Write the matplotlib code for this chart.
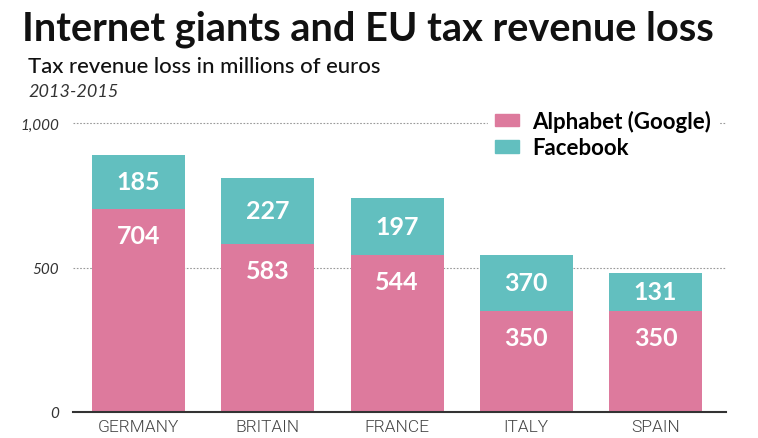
import matplotlib
matplotlib.use("Agg")
from matplotlib import pyplot as plt
from matplotlib.patches import Patch

countries = ["GERMANY", "BRITAIN", "FRANCE", "ITALY", "SPAIN"]
alphabet = [704, 583, 544, 350, 350]
# bar heights as drawn in the source (the Italy label says 370 but the bar is shorter)
facebook = [185, 227, 197, 195, 131]
alphabet_labels = ["704", "583", "544", "350", "350"]
facebook_labels = ["185", "227", "197", "370", "131"]

pink = "#dd7a9d"
teal = "#62bfbf"

plt.rcParams["font.family"] = ["Lato", "DejaVu Sans"]

fig = plt.figure(figsize=(7.58, 4.39), dpi=100)
ax = fig.add_axes([73 / 758, 26 / 439, 653 / 758, 303.4 / 439])

x = range(len(countries))
ax.bar(x, alphabet, width=0.72, color=pink, zorder=2)
ax.bar(x, facebook, width=0.72, bottom=alphabet, color=teal, zorder=2)

for i in x:
    ax.text(i, alphabet[i] - 92, alphabet_labels[i], ha="center", va="center",
            color="white", fontsize=18, fontweight="bold", zorder=3)
    ax.text(i, alphabet[i] + facebook[i] / 2, facebook_labels[i], ha="center",
            va="center", color="white", fontsize=18, fontweight="bold", zorder=3)

ax.set_xlim(-0.507, 4.545)
ax.set_ylim(0, 1050)
ax.set_yticks([0, 500, 1000])
ax.set_yticklabels(["0", "500", "1,000"], fontstyle="italic", fontsize=11, color="#333333")
ax.tick_params(axis="y", length=0, pad=10)
ax.set_xticks(list(x))
ax.set_xticklabels(countries, fontsize=12.5, color="#444444", family="Roboto", fontweight=300)
ax.tick_params(axis="x", length=0, pad=5)

for v in [500, 1000]:
    ax.axhline(v, color="#999999", linestyle=(0, (1.5, 1.5)), linewidth=0.8, zorder=1)

for s in ["top", "right", "left"]:
    ax.spines[s].set_visible(False)
ax.spines["bottom"].set_color("#333333")
ax.spines["bottom"].set_linewidth(1.5)
ax.spines["bottom"].set_zorder(4)

handles = [Patch(color=pink, label="Alphabet (Google)"),
           Patch(color=teal, label="Facebook")]
leg = fig.legend(handles=handles, loc="upper left", bbox_to_anchor=(477 / 758, 1 - 93 / 439),
                 frameon=True, fontsize=16, handlelength=1.1, handleheight=0.5,
                 labelspacing=0.25, borderpad=0.3, handletextpad=0.6)
leg.get_frame().set_facecolor("white")
leg.get_frame().set_edgecolor("white")
leg.get_frame().set_alpha(1)
for t in leg.get_texts():
    t.set_fontweight("bold")

fig.text(22 / 758, 1 - 41 / 439, "Internet giants and EU tax revenue loss",
         fontsize=28.6, fontweight="bold", color="#111111")
fig.text(28 / 758, 1 - 73 / 439, "Tax revenue loss in millions of euros",
         fontsize=15.9, color="#111111", fontweight="medium")
fig.text(28 / 758, 1 - 97 / 439, "2013-2015", fontsize=13, fontstyle="italic",
         color="#333333")

fig.savefig("out.png", dpi=100)
